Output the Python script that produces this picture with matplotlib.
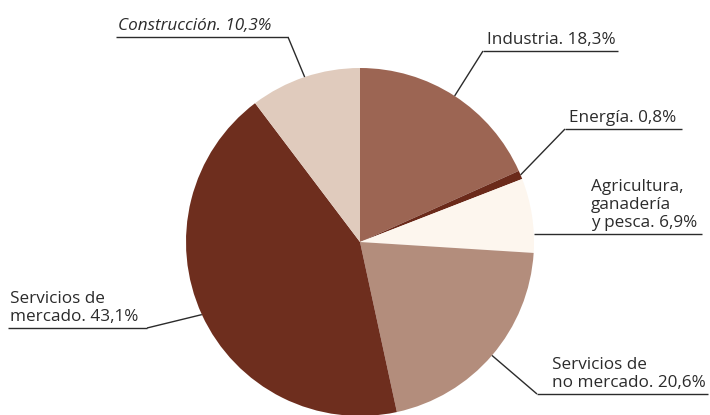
import numpy as np
import matplotlib
matplotlib.use('Agg')
import matplotlib.pyplot as plt

plt.rcParams['font.family'] = ['Open Sans', 'DejaVu Sans']

# Sector shares (%), clockwise from 12 o'clock
sectors = ['Industria', 'Energía', 'Agricultura, ganadería y pesca',
           'Servicios de no mercado', 'Servicios de mercado', 'Construcción']
shares = [18.3, 0.8, 6.9, 20.6, 43.1, 10.3]
labels = ['Industria. 18,3%', 'Energía. 0,8%',
          'Agricultura,\nganadería\ny pesca. 6,9%',
          'Servicios de\nno mercado. 20,6%',
          'Servicios de\nmercado. 43,1%',
          'Construcción. 10,3%']
colors = ['#9c6553', '#6b2a1a', '#fdf6ee', '#b38d7c', '#6e2e1e', '#e0cbbd']

W, H = 710, 415
fig = plt.figure(figsize=(W / 100, H / 100), dpi=100)
ax = fig.add_axes([0, 0, 1, 1])

cx, cy, r = 360, H - 242, 174
wedges, _ = ax.pie(shares, colors=colors, startangle=90, counterclock=False,
                   center=(cx, cy), radius=r,
                   wedgeprops=dict(linewidth=0))
ax.set_xlim(0, W)
ax.set_ylim(0, H)
ax.set_aspect('equal')
ax.axis('off')

# label layout: text left x, underline y (px from top), underline x-range,
# position of the leader along the wedge (0..1)
layout = [
    dict(tx=487, uy=51, ux=(483, 618), frac=0.5),
    dict(tx=569, uy=129, ux=(565, 682), frac=0.5),
    dict(tx=591, uy=234, ux=(None, 702), frac=0.25),
    dict(tx=552, uy=394, ux=(537, 708), frac=0.5),
    dict(tx=10, uy=328, ux=(8, 147), frac=0.5),
    dict(tx=118, uy=37, ux=(116, 288), frac=0.5),
]

line_kw = dict(color='#2b2b2b', lw=1.0, solid_capstyle='butt')

for w, lab, lay in zip(wedges, labels, layout):
    ang = np.deg2rad(w.theta1 + lay['frac'] * (w.theta2 - w.theta1))
    ex, ey = cx + r * np.cos(ang), cy + r * np.sin(ang)
    uy = H - lay['uy']
    x0, x1 = lay['ux']
    if x0 is None:
        # horizontal underline starting at the pie rim
        ax.plot([ex, x1], [uy, uy], **line_kw)
    else:
        corner = x1 if ex > x1 else x0
        ax.plot([x0, x1], [uy, uy], **line_kw)
        ax.plot([corner, ex], [uy, ey], **line_kw)
    style = 'italic' if lab.startswith('Construcción') else 'normal'
    ax.text(lay['tx'], uy + 3, lab, ha='left', va='bottom', fontsize=12.3,
            color='#2b2b2b', style=style, linespacing=1.18)

fig.savefig('out.png', dpi=100)
